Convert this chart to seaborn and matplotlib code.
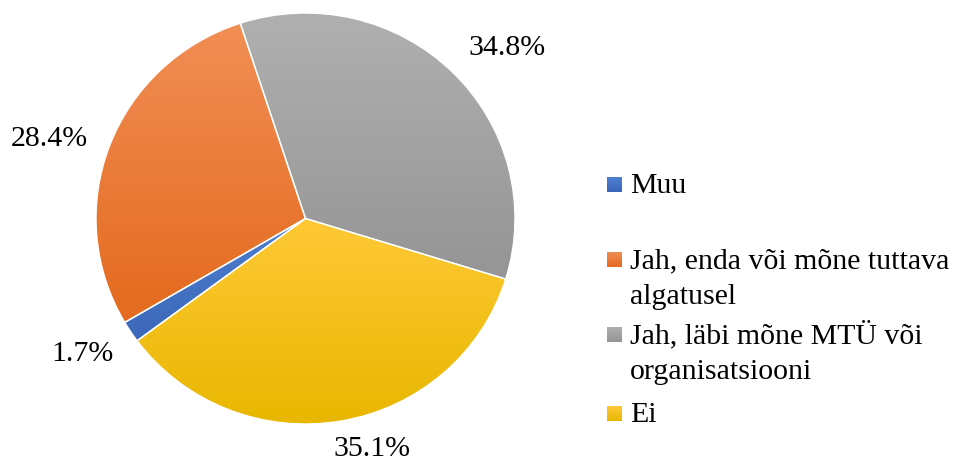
import numpy as np
import matplotlib
matplotlib.use("Agg")
import matplotlib.pyplot as plt
import seaborn as sns
from matplotlib.colors import LinearSegmentedColormap

##########################################################
# dati
categories = ["Muu",
              "Jah, enda või mõne tuttava\nalgatusel",
              "Jah, läbi mõne MTÜ või\norganisatsiooni",
              "Ei"]
shares = [1.7, 28.4, 34.8, 35.1]
pct_labels = ["1.7%", "28.4%", "34.8%", "35.1%"]

# colori (alto, basso) per il riempimento sfumato stile Excel
top_colors = ["#4F7FD0", "#F18E55", "#B0B0B0", "#FFC936"]
bottom_colors = ["#3B67B9", "#E46A1E", "#959595", "#E8B700"]
base_colors = ["#4472C4", "#ED7D31", "#A5A5A5", "#FFC000"]

sns.set_theme(style="white")
plt.rcParams["font.family"] = ["Liberation Serif", "DejaVu Serif"]

W, H = 964, 462
fig = plt.figure(figsize=(W / 100, H / 100), dpi=100)

# pie: centro e raggi in pixel
cx, cy, rx, ry = 305.5, 218.5, 209.5, 205.5
ax = fig.add_axes([(cx - rx) / W, (H - cy - ry) / H, 2 * rx / W, 2 * ry / H])

wedges, texts = ax.pie(shares, labels=pct_labels,
                       colors=sns.color_palette(base_colors),
                       startangle=216.5, counterclock=False,
                       labeldistance=1.2,
                       wedgeprops=dict(edgecolor="white", linewidth=1.0),
                       textprops=dict(fontsize=21.5, color="black"))
ax.set_axis_off()

##########################################################
# sfumatura verticale dentro ogni spicchio
grad = np.linspace(0, 1, 256).reshape(-1, 1)
for w, c0, c1 in zip(wedges, top_colors, bottom_colors):
    ext = w.get_path().get_extents()
    cmap = LinearSegmentedColormap.from_list("g", [c0, c1])
    im = ax.imshow(grad, cmap=cmap, extent=(ext.x0, ext.x1, ext.y0, ext.y1),
                   origin="upper", aspect="auto", zorder=0.5)
    im.set_clip_path(w)
    w.set_facecolor("none")
    w.set_zorder(1)
ax.set_aspect("auto")
ax.set_xlim(-1, 1)
ax.set_ylim(-1, 1)

# posizione delle etichette percentuali (pixel della figura)
label_px = [(82, 354), (49, 139), (507, 48), (372, 449)]
for t, (px, py) in zip(texts, label_px):
    t.set_position(((px - cx) / rx, (cy - py) / ry))
    t.set_ha("center")
    t.set_va("center")

##########################################################
# legenda manuale: linea di base della prima riga di ogni voce (px)
legend_base = [193, 268, 343, 422]
line_gap = 36
for lab, c0, c1, yb in zip(categories, top_colors, bottom_colors, legend_base):
    cm = LinearSegmentedColormap.from_list("m", [c0, c1])
    mk = fig.add_axes([607 / W, (H - yb + 1) / H, 15 / W, 15 / H])
    mk.imshow(grad, cmap=cm, aspect="auto", origin="upper")
    mk.set_axis_off()
    for i, line in enumerate(lab.split("\n")):
        fig.text(630 / W, (H - yb - i * line_gap) / H, line, fontsize=21.5,
                 color="black", ha="left", va="baseline")

fig.savefig("out.png", dpi=100)
